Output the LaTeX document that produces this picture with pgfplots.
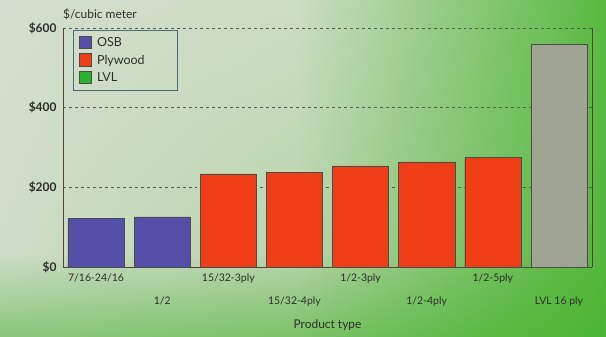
\documentclass[border=0pt]{standalone}
\usepackage{pgfplots}
\pgfplotsset{compat=1.18}
\usepackage{fontspec}
\setmainfont{Lato}
\usetikzlibrary{backgrounds,shadings,fadings}
\definecolor{osb}{RGB}{84,80,170}
\definecolor{ply}{RGB}{238,62,22}
\definecolor{lvlbar}{RGB}{160,164,146}
\definecolor{lvlleg}{RGB}{40,180,40}
\definecolor{txt}{RGB}{45,45,40}
\definecolor{axl}{RGB}{80,70,50}
\definecolor{bgul}{RGB}{212,222,206}
\definecolor{bgur}{RGB}{196,220,184}
\definecolor{bgll}{RGB}{204,220,198}
\definecolor{bglr}{RGB}{150,200,130}
\definecolor{bggreen}{RGB}{70,180,45}
\begin{document}
\begin{tikzpicture}
\begin{axis}[
  scale only axis,
  width=529bp, height=239bp,
  xmin=-0.5, xmax=7.5,
  ymin=0, ymax=600,
  clip=false,
  ytick={0,200,400,600},
  yticklabels={\$0,\$200,\$400,\$600},
  xtick={0,...,7},
  xticklabels={7/16-24/16,{\vphantom{1}\\1/2},15/32-3ply,{\vphantom{1}\\15/32-4ply},1/2-3ply,{\vphantom{1}\\1/2-4ply},1/2-5ply,{\vphantom{1}\\LVL 16 ply}},
  x tick label style={font=\fontsize{10.5}{24}\selectfont, text=txt, align=center, yshift=-3pt},
  y tick label style={font=\fontsize{12}{14}\selectfont\bfseries, text=txt, xshift=-3pt},
  /pgf/number format/assume math mode=true,
  major tick length=0pt,
  axis x line*=bottom, axis y line*=left,
  axis line style={axl, thick},
  ymajorgrids,
  grid style={dashed, black!65, thick},
  xlabel={Product type},
  xlabel style={font=\fontsize{12}{14}\selectfont, text=txt, yshift=-6pt},
  ybar, bar width=0.85,
  legend style={at={(0.018,0.99)}, anchor=north west, draw=black!60!cyan, fill=none,
    font=\fontsize{12.5}{14}\selectfont, text=txt, row sep=3pt, inner xsep=6pt, inner ysep=5pt},
  legend cell align=left,
  legend image code/.code={\draw[#1, draw=black!70] (0bp,-5.5bp) rectangle (12bp,7bp);},
]
\addplot[fill=osb, draw=black!70, bar shift=0pt] coordinates {(0,123) (1,126)};
\addlegendentry{\makebox[76bp][l]{\hspace{4bp}OSB}}
\addplot[fill=ply, draw=black!70, bar shift=0pt] coordinates {(2,234) (3,237) (4,254) (5,264) (6,275)};
\addlegendentry{\makebox[76bp][l]{\hspace{4bp}Plywood}}
\addlegendimage{fill=lvlleg}
\addlegendentry{\makebox[76bp][l]{\hspace{4bp}LVL}}
\addplot[fill=lvlbar, draw=black!70, bar shift=0pt, forget plot] coordinates {(7,560)};
\draw[axl, thick] (rel axis cs:1,0) -- (rel axis cs:1,1);
\coordinate (O) at (rel axis cs:0,0);
\coordinate (T) at (rel axis cs:1,1);
\node[anchor=south west, font=\fontsize{12}{14}\selectfont, text=txt, inner sep=0pt] at ([yshift=8bp]rel axis cs:0,1) {\$/cubic meter};
\end{axis}
\begin{scope}[on background layer]
\shade[upper left=bgul, upper right=bgur, lower left=bgll, lower right=bglr]
  ([shift={(-63bp,-70bp)}]O) rectangle ([shift={(14bp,28bp)}]T);
\fill[bggreen, path fading=west, opacity=0.85]
  ([shift={(237bp,-70bp)}]O) rectangle ([shift={(14bp,28bp)}]T);
\fill[bggreen, path fading=north, opacity=0.5]
  ([shift={(-63bp,-70bp)}]O) rectangle ([shift={(14bp,-227bp)}]T);
\end{scope}
\end{tikzpicture}
\end{document}
